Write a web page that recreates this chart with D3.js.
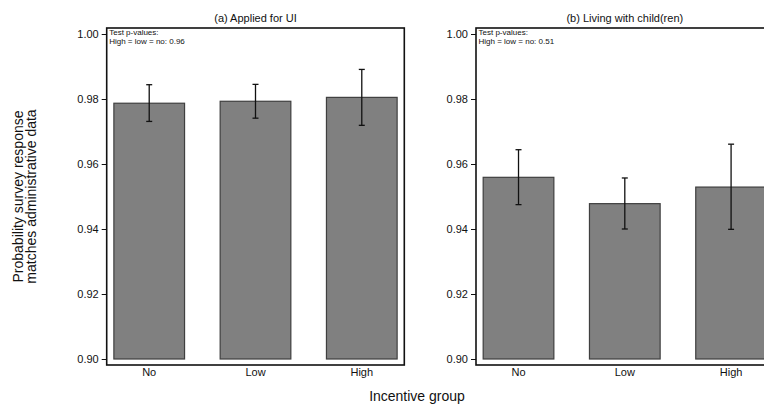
<!DOCTYPE html>
<html><head><meta charset="utf-8">
<script src="https://cdn.jsdelivr.net/npm/d3@7"></script>
<style>body{margin:0;background:#fff;} svg{display:block;font-family:"Liberation Sans",Arial,sans-serif;}</style>
</head><body>
<script>
const categories = ["No","Low","High"];
const panelTitles = ["(a) Applied for UI","(b) Living with child(ren)"];
const pvalueText = ["High = low = no: 0.96","High = low = no: 0.51"];
const meansA = [0.9787,0.9793,0.9805];
const lowerA = [0.9731,0.9741,0.9719];
const upperA = [0.9844,0.9845,0.9891];
const meansB = [0.9559,0.9478,0.9529];
const lowerB = [0.9475,0.9400,0.9399];
const upperB = [0.9644,0.9557,0.9661];
const yTicks = [0.90,0.92,0.94,0.96,0.98,1.00];

const W=764,H=409;
const svg=d3.select("body").append("svg").attr("width",W).attr("height",H);

const frameTop=28, frameBottom=365, frameW=297.6;
const panelLefts=[106.7,476];
const y=d3.scaleLinear().domain([0.90,1.00]).range([359,34]);
const panels=[{m:meansA,lo:lowerA,hi:upperA},{m:meansB,lo:lowerB,hi:upperB}];

panels.forEach((p,pi)=>{
  const L=panelLefts[pi];
  const x=d3.scaleLinear().domain([-0.4,2.4]).range([L,L+frameW]);
  const step=x(1)-x(0), bw=step*0.665;
  const g=svg.append("g");
  // bars
  g.selectAll("rect.bar").data(p.m).enter().append("rect")
    .attr("x",(d,i)=>x(i)-bw/2).attr("width",bw)
    .attr("y",d=>y(d)).attr("height",d=>y(0.90)-y(d))
    .attr("fill","#808080").attr("stroke","#3f3f3f").attr("stroke-width",1.2);
  // error bars
  const cap=3;
  p.m.forEach((d,i)=>{
    const cx=x(i);
    g.append("line").attr("x1",cx).attr("x2",cx).attr("y1",y(p.lo[i])).attr("y2",y(p.hi[i])).attr("stroke","#111").attr("stroke-width",1.3);
    [p.lo[i],p.hi[i]].forEach(v=>{
      g.append("line").attr("x1",cx-cap).attr("x2",cx+cap).attr("y1",y(v)).attr("y2",y(v)).attr("stroke","#111").attr("stroke-width",1.3);
    });
  });
  // frame
  g.append("rect").attr("x",L).attr("y",frameTop).attr("width",frameW).attr("height",frameBottom-frameTop)
    .attr("fill","none").attr("stroke","#111").attr("stroke-width",1.6);
  // y axis
  const ax=svg.append("g").attr("transform",`translate(${L},0)`)
    .call(d3.axisLeft(y).tickValues(yTicks).tickFormat(d3.format(".2f")).tickSize(5).tickPadding(3));
  ax.select(".domain").remove();
  ax.selectAll("text").attr("font-size",11).attr("fill","#111").attr("font-family","Liberation Sans, Arial, sans-serif");
  ax.selectAll("line").attr("stroke","#111");
  // x labels
  g.selectAll("text.xl").data(categories).enter().append("text")
    .attr("x",(d,i)=>x(i)).attr("y",frameBottom+11).attr("text-anchor","middle")
    .attr("font-size",11).attr("fill","#111").text(d=>d);
  // title
  g.append("text").attr("x",L+frameW/2).attr("y",22).attr("text-anchor","middle")
    .attr("font-size",11).attr("fill","#111").text(panelTitles[pi]);
  // p-values
  g.append("text").attr("x",L+2.5).attr("y",35).attr("font-size",8).attr("fill","#111").text("Test p-values:");
  g.append("text").attr("x",L+2.5).attr("y",44).attr("font-size",8).attr("fill","#111").text(pvalueText[pi]);
});

// axis titles
svg.append("text").attr("x",417).attr("y",401).attr("text-anchor","middle").attr("font-size",14).attr("fill","#111").text("Incentive group");
const yt=svg.append("text").attr("transform","translate(23,196.5) rotate(-90)").attr("text-anchor","middle").attr("font-size",14).attr("fill","#111");
yt.append("tspan").attr("x",0).attr("dy",0).text("Probability survey response");
yt.append("tspan").attr("x",0).attr("dy",13).text("matches administrative data");
</script>
</body></html>
